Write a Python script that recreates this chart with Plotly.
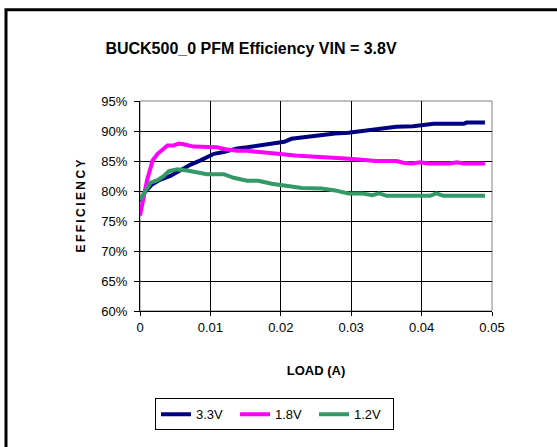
import plotly.graph_objects as go

load_33 = [0, 0.0006, 0.0017, 0.0029, 0.0043, 0.0057, 0.0072, 0.0086, 0.0095, 0.0105, 0.0119,
           0.0138, 0.0152, 0.0168, 0.0187, 0.0205, 0.0215, 0.0234, 0.0258, 0.0277, 0.0296,
           0.0315, 0.0334, 0.0345, 0.0364, 0.0388, 0.0398, 0.0417, 0.0460, 0.0464, 0.0490]
eff_33 = [78.3, 79.7, 81.1, 81.9, 82.5, 83.4, 84.4, 85.1, 85.6, 86.2, 86.5,
          87.1, 87.3, 87.6, 88.0, 88.2, 88.7, 89.0, 89.3, 89.6, 89.7,
          90.0, 90.2, 90.4, 90.7, 90.8, 90.9, 91.2, 91.2, 91.4, 91.4]

load_18 = [0, 0.0006, 0.0010, 0.0018, 0.0025, 0.0039, 0.0048, 0.0055, 0.0062, 0.0076, 0.0109,
           0.0124, 0.0138, 0.0152, 0.0177, 0.0196, 0.0220, 0.0258, 0.0291, 0.0315, 0.0334,
           0.0364, 0.0374, 0.0386, 0.0398, 0.0410, 0.0440, 0.0450, 0.0460, 0.0490]
eff_18 = [75.9, 79.0, 81.8, 85.1, 86.2, 87.6, 87.6, 87.9, 87.8, 87.4, 87.3,
          86.9, 86.7, 86.7, 86.5, 86.2, 85.9, 85.7, 85.4, 85.2, 85.0,
          85.0, 84.7, 84.6, 84.8, 84.6, 84.6, 84.8, 84.6, 84.6]

load_12 = [0, 0.0008, 0.0015, 0.0025, 0.0034, 0.0041, 0.0053, 0.0067, 0.0081, 0.0095, 0.0119,
           0.0133, 0.0152, 0.0168, 0.0187, 0.0206, 0.0230, 0.0258, 0.0277, 0.0296, 0.0315,
           0.0330, 0.0340, 0.0350, 0.0412, 0.0421, 0.0431, 0.0490]
eff_12 = [78.5, 80.0, 81.4, 81.8, 82.5, 83.3, 83.6, 83.4, 83.1, 82.8, 82.8,
          82.2, 81.7, 81.7, 81.2, 80.9, 80.5, 80.4, 80.1, 79.6, 79.6,
          79.3, 79.6, 79.2, 79.2, 79.6, 79.2, 79.2]

series_names = ["3.3V", "1.8V", "1.2V"]
series_colors = ["#000080", "#FF00FF", "#339966"]

FONT = "Liberation Sans, Arial, sans-serif"

fig = go.Figure()
for name, xs, ys, col in zip(series_names, [load_33, load_18, load_12],
                             [eff_33, eff_18, eff_12], series_colors):
    fig.add_trace(go.Scatter(
        x=xs, y=[v / 100 for v in ys], name=name, mode="lines",
        line=dict(color=col, width=4), hoverinfo="skip"))

fig.update_layout(
    width=557, height=447,
    margin=dict(l=140, r=65, t=101, b=136),
    paper_bgcolor="white", plot_bgcolor="white",
    font=dict(family=FONT, size=13, color="black"),
    title=dict(text="<b>BUCK500_0 PFM Efficiency VIN = 3.8V</b>",
               x=251 / 557, xanchor="center", y=1 - 48 / 447, yanchor="middle",
               font=dict(size=16, family=FONT, color="black")),
    showlegend=True,
    legend=dict(orientation="h", x=(155 - 140) / 352, xanchor="left",
                y=(310.7 - 398) / 210, yanchor="top",
                bordercolor="black", borderwidth=1, bgcolor="white",
                font=dict(size=13, family=FONT, color="black"),
                itemwidth=30, tracegroupgap=0, entrywidth=34, entrywidthmode="pixels"),
    xaxis=dict(range=[0, 0.05], dtick=0.01, tick0=0,
               showgrid=True, gridcolor="black", gridwidth=1,
               showline=True, linecolor="black", linewidth=1,
               ticks="outside", ticklen=4, tickcolor="black",
               zeroline=False,
               title=dict(text="<b>LOAD (A)</b>", font=dict(size=13, family=FONT), standoff=32)),
    yaxis=dict(range=[0.60, 0.95], dtick=0.05, tick0=0.6, tickformat=".0%",
               showgrid=True, gridcolor="black", gridwidth=1,
               showline=True, linecolor="black", linewidth=1,
               ticks="outside", ticklen=5, tickcolor="black", ticklabelstandoff=4,
               zeroline=False,
               title=dict(text="<b>E\u2009F\u2009F\u2009I\u2009C\u2009I\u2009E\u2009N\u2009C\u2009Y</b>",
                          font=dict(size=12, family=FONT), standoff=13)),
    shapes=[
        # plot-area border (top/right)
        dict(type="rect", xref="paper", yref="paper", x0=0, x1=1, y0=0, y1=1,
             line=dict(color="#808080", width=1), layer="below"),
        # outer chart frame
        dict(type="rect", xref="paper", yref="paper",
             x0=(6 - 140) / 352, x1=1.3, y0=-0.8, y1=(310.7 - 9.5) / 210,
             line=dict(color="black", width=3)),
    ],
)

fig.write_html("out.html", config={"displayModeBar": False},
               post_script="document.body.style.margin='0px';")
